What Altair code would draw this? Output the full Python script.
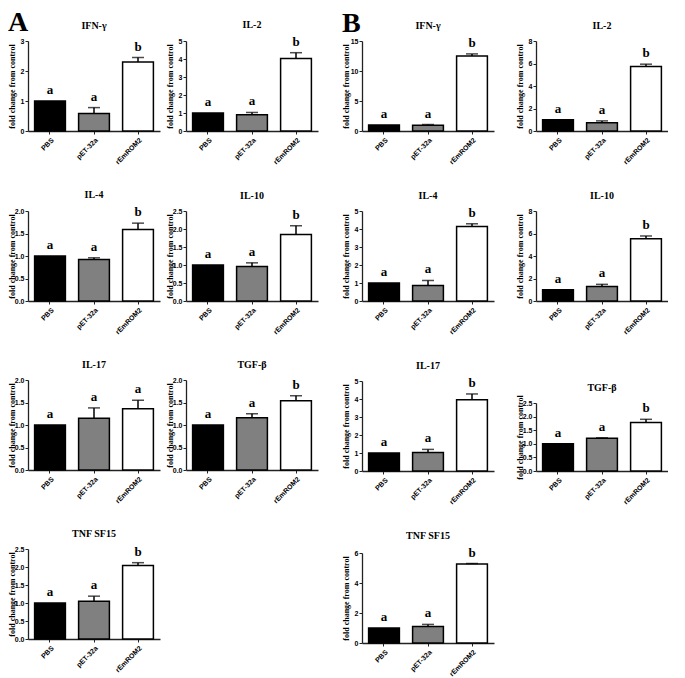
import altair as alt
import pandas as pd

groups = ["PBS", "pET-32a", "rEmROM2"]
fills = ["#000000", "#808080", "#ffffff"]

# Panel A (left block)
A_IFN_mean = [1.0, 0.58, 2.30]
A_IFN_err = [0.0, 0.20, 0.15]
A_IFN_letters = ["a", "a", "b"]
A_IFN_ticks = [0, 1, 2, 3]

A_IL2_mean = [1.0, 0.90, 4.03]
A_IL2_err = [0.0, 0.13, 0.32]
A_IL2_letters = ["a", "a", "b"]
A_IL2_ticks = [0, 1, 2, 3, 4, 5]

A_IL4_mean = [1.0, 0.92, 1.59]
A_IL4_err = [0.0, 0.04, 0.14]
A_IL4_letters = ["a", "a", "b"]
A_IL4_ticks = [0.0, 0.5, 1.0, 1.5, 2.0]

A_IL10_mean = [1.0, 0.96, 1.85]
A_IL10_err = [0.0, 0.10, 0.24]
A_IL10_letters = ["a", "a", "b"]
A_IL10_ticks = [0.0, 0.5, 1.0, 1.5, 2.0, 2.5]

A_IL17_mean = [1.0, 1.15, 1.36]
A_IL17_err = [0.0, 0.23, 0.19]
A_IL17_letters = ["a", "a", "a"]
A_IL17_ticks = [0.0, 0.5, 1.0, 1.5, 2.0]

A_TGF_mean = [1.0, 1.16, 1.54]
A_TGF_err = [0.0, 0.09, 0.11]
A_TGF_letters = ["a", "a", "b"]
A_TGF_ticks = [0.0, 0.5, 1.0, 1.5, 2.0]

A_TNF_mean = [1.0, 1.05, 2.04]
A_TNF_err = [0.0, 0.14, 0.08]
A_TNF_letters = ["a", "a", "b"]
A_TNF_ticks = [0.0, 0.5, 1.0, 1.5, 2.0, 2.5]

# Panel B (right block)
B_IFN_mean = [1.0, 0.95, 12.5]
B_IFN_err = [0.0, 0.13, 0.35]
B_IFN_letters = ["a", "a", "b"]
B_IFN_ticks = [0, 5, 10, 15]

B_IL2_mean = [1.0, 0.74, 5.74]
B_IL2_err = [0.0, 0.16, 0.20]
B_IL2_letters = ["a", "a", "b"]
B_IL2_ticks = [0, 2, 4, 6, 8]

B_IL4_mean = [1.0, 0.86, 4.14]
B_IL4_err = [0.0, 0.28, 0.15]
B_IL4_letters = ["a", "a", "b"]
B_IL4_ticks = [0, 1, 2, 3, 4, 5]

B_IL10_mean = [1.0, 1.30, 5.54]
B_IL10_err = [0.0, 0.18, 0.24]
B_IL10_letters = ["a", "a", "b"]
B_IL10_ticks = [0, 2, 4, 6, 8]

B_IL17_mean = [1.0, 1.03, 3.96]
B_IL17_err = [0.0, 0.17, 0.32]
B_IL17_letters = ["a", "a", "b"]
B_IL17_ticks = [0, 1, 2, 3, 4, 5]

B_TGF_mean = [1.0, 1.20, 1.78]
B_TGF_err = [0.0, 0.02, 0.12]
B_TGF_letters = ["a", "a", "b"]
B_TGF_ticks = [0.0, 0.5, 1.0, 1.5, 2.0, 2.5]

B_TNF_mean = [1.0, 1.10, 5.27]
B_TNF_err = [0.0, 0.14, 0.03]
B_TNF_letters = ["a", "a", "b"]
B_TNF_ticks = [0, 2, 4, 6]

SERIF = "Liberation Serif"
SANS = "Liberation Sans"
PW = 132
PH = 90


def panel(title, means, errs, letters, ticks, fmt, top_px=0, toff=6):
    df = pd.DataFrame({
        "group": groups,
        "mean": means,
        "err": errs,
        "top": [m + e for m, e in zip(means, errs)],
        "letter": letters,
    })
    xaxis = alt.Axis(labelAngle=-45, labelFont=SANS, labelFontWeight="bold",
                     labelFontSize=7, tickSize=3, labelPadding=2, title=None)
    x = alt.X("group:N", sort=groups, title=None,
              scale=alt.Scale(paddingInner=0.3, paddingOuter=0.15), axis=xaxis)
    axis_kw = dict(values=ticks, format=fmt, title="fold change from control",
                   titleFont=SERIF, titleFontWeight="bold", titleFontSize=8,
                   titlePadding=1, labelFont=SANS, labelFontWeight="bold",
                   labelFontSize=7, labelPadding=1, tickSize=3,
                   minExtent=11, maxExtent=11)
    if top_px:
        yscale = alt.Scale(domain=[ticks[0], ticks[-1]], nice=False, range=[PH, top_px])
        axis_kw["titleY"] = (PH + top_px) / 2
    else:
        yscale = alt.Scale(domain=[ticks[0], ticks[-1]], nice=False)
    yaxis = alt.Axis(**axis_kw)

    def Y(field):
        return alt.Y(field, scale=yscale, axis=yaxis, title="fold change from control")

    base = alt.Chart(df)
    bars = base.mark_bar(stroke="black", strokeWidth=1.5).encode(
        x=x, y=Y("mean:Q"),
        fill=alt.Fill("group:N", scale=alt.Scale(domain=groups, range=fills), legend=None),
    )
    rule = base.transform_filter("datum.err > 0").mark_rule(
        color="black", strokeWidth=1.5).encode(x=x, y=Y("mean:Q"), y2="top:Q")
    cap = base.transform_filter("datum.err > 0").mark_tick(
        color="black", thickness=1.5, size=12).encode(x=x, y=Y("top:Q"))
    text = base.mark_text(dy=-4, baseline="bottom", font=SERIF, fontWeight="bold",
                          fontSize=13, color="black").encode(
        x=x, y=Y("top:Q"), text="letter:N")
    return alt.layer(bars, rule, cap, text).properties(
        width=PW, height=PH,
        title=alt.TitleParams(title, offset=toff, fontSize=10, font=SERIF,
                              fontWeight="bold", color="black"),
    )


pA_IFN = panel("IFN-γ", A_IFN_mean, A_IFN_err, A_IFN_letters, A_IFN_ticks, "d")
pA_IL2 = panel("IL-2", A_IL2_mean, A_IL2_err, A_IL2_letters, A_IL2_ticks, "d")
pA_IL4 = panel("IL-4", A_IL4_mean, A_IL4_err, A_IL4_letters, A_IL4_ticks, ".1f")
pA_IL10 = panel("IL-10", A_IL10_mean, A_IL10_err, A_IL10_letters, A_IL10_ticks, ".1f")
pA_IL17 = panel("IL-17", A_IL17_mean, A_IL17_err, A_IL17_letters, A_IL17_ticks, ".1f")
pA_TGF = panel("TGF-β", A_TGF_mean, A_TGF_err, A_TGF_letters, A_TGF_ticks, ".1f")
pA_TNF = panel("TNF SF15", A_TNF_mean, A_TNF_err, A_TNF_letters, A_TNF_ticks, ".1f")

pB_IFN = panel("IFN-γ", B_IFN_mean, B_IFN_err, B_IFN_letters, B_IFN_ticks, "d")
pB_IL2 = panel("IL-2", B_IL2_mean, B_IL2_err, B_IL2_letters, B_IL2_ticks, "d")
pB_IL4 = panel("IL-4", B_IL4_mean, B_IL4_err, B_IL4_letters, B_IL4_ticks, "d")
pB_IL10 = panel("IL-10", B_IL10_mean, B_IL10_err, B_IL10_letters, B_IL10_ticks, "d")
pB_IL17 = panel("IL-17", B_IL17_mean, B_IL17_err, B_IL17_letters, B_IL17_ticks, "d")
pB_TGF = panel("TGF-β", B_TGF_mean, B_TGF_err, B_TGF_letters, B_TGF_ticks, ".1f",
               top_px=22, toff=-12)
pB_TNF = panel("TNF SF15", B_TNF_mean, B_TNF_err, B_TNF_letters, B_TNF_ticks, "d")

block_title = dict(fontSize=28, font=SERIF, fontWeight="bold", anchor="start",
                   color="black", offset=-17)

blockA = alt.concat(
    pA_IFN, pA_IL2, pA_IL4, pA_IL10, pA_IL17, pA_TGF, pA_TNF,
    columns=2,
    spacing=alt.RowColnumber(row=25, column=6),
    title=alt.TitleParams("A", **block_title),
)
blockB = alt.concat(
    pB_IFN, pB_IL2, pB_IL4, pB_IL10, pB_IL17, pB_TGF, pB_TNF,
    columns=2,
    spacing=alt.RowColnumber(row=25, column=22),
    title=alt.TitleParams("B", **block_title),
)

chart = alt.hconcat(blockA, blockB, spacing=24).properties(padding=0).configure_view(
    stroke=None
).configure_axis(
    domainColor="#222222", tickColor="#222222", domainWidth=1.3, tickWidth=1,
    labelColor="black", titleColor="black", grid=False,
)

chart.save("out.html", embed_options={"renderer": "svg", "actions": False})
